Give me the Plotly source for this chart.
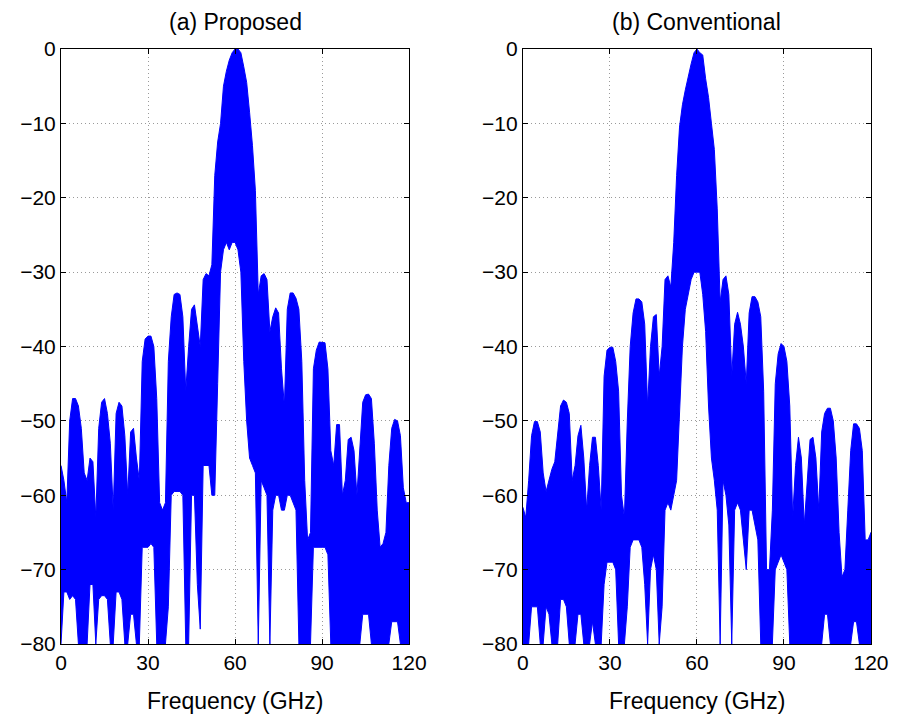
import plotly.graph_objects as go

# Frequency grid (GHz), 1 GHz steps
freq = list(range(0, 121))

# (a) Proposed: upper and lower envelope of the spectrum (dB)
upper_a = [
    -56, -58, -61, -50, -47, -47, -48, -51, -57, -58,
    -55, -55.5, -63, -51, -47.5, -47, -49, -53, -62, -49,
    -47.5, -48, -52, -60, -51.5, -51, -55, -58, -42, -39,
    -38.6, -38.6, -40, -47, -61, -62, -61, -42, -36, -33,
    -32.8, -33, -36, -46, -40, -35, -34.4, -37, -40, -31,
    -30.2, -30.5, -29, -17, -12.5, -10, -5, -3, -1.5, -0.5,
    0, 0, -0.5, -2.4, -4.5, -8.5, -13, -19, -33, -30.5,
    -30.2, -31, -38, -36, -34.8, -35.5, -43, -48, -35, -32.8,
    -32.8, -33.5, -35, -42, -58, -66, -65, -43, -40.5, -39.4,
    -39.4, -39.5, -43, -54, -56, -50.5, -50.5, -60, -58, -52.5,
    -52.2, -54, -60, -53, -47.5, -46.5, -46.4, -47, -53, -62,
    -67, -66.5, -65, -56, -51, -49.8, -50, -52, -59, -61, -61,
]
lower_a = [
    -80, -73, -73, -74, -73.5, -74, -80, -80, -80, -80,
    -72, -72, -80, -74, -73.5, -73.5, -74, -80, -80, -73,
    -73, -74, -80, -80, -76, -76, -80, -80, -67, -67,
    -67, -66.5, -67, -80, -80, -80, -80, -75, -60, -59.5,
    -59.5, -59.5, -60, -80, -80, -60, -60, -72, -78, -56,
    -56, -56, -60, -60, -45, -30, -27, -26, -27, -26,
    -26, -27, -30, -42, -50, -55, -56, -57, -80, -58,
    -59, -60, -80, -62, -60, -60, -62, -62, -60, -60,
    -61, -62, -80, -80, -80, -80, -80, -67, -67, -67,
    -67, -67, -68, -80, -80, -80, -80, -80, -80, -80,
    -80, -80, -80, -80, -76, -76, -76, -80, -80, -80,
    -80, -80, -80, -80, -77, -77, -77, -80, -80, -80, -80,
]

# (b) Conventional
upper_b = [
    -61.6, -63, -58, -52, -50.1, -50.1, -51.5, -57, -59.5, -58,
    -56.5, -55.5, -52, -48, -47.2, -47.5, -49, -58, -56, -52,
    -50.6, -55, -62, -56, -52.2, -52.2, -56, -62, -44, -40.5,
    -40.1, -40.1, -42, -46, -60, -63, -50, -40, -35.5, -33.6,
    -33.6, -34, -37, -48, -40, -36, -35.7, -44, -40, -31,
    -30.5, -32, -26, -17, -10.5, -7.5, -5.5, -3.5, -2, -0.5,
    0, -0.5, -0.8, -4, -6.5, -10, -13.5, -21.5, -34, -31,
    -30.5, -33, -44, -37, -35.4, -37, -40, -45, -35.5, -33.3,
    -33.3, -34, -36, -46, -70, -70, -62, -45, -41, -39.6,
    -40, -42, -48, -63, -56, -52.2, -55, -64, -58, -52.5,
    -52.2, -55, -62, -51.5, -49, -48.3, -48.3, -50, -55, -65,
    -71, -70, -62, -54, -50.4, -50.4, -51, -54, -66, -66, -65,
]
lower_b = [
    -80, -80, -80, -75, -75, -75, -80, -80, -75, -76,
    -80, -80, -80, -74, -74, -75, -80, -80, -80, -76,
    -76, -80, -80, -80, -77, -80, -80, -80, -72, -69,
    -69, -69, -70, -80, -80, -80, -75, -67, -66, -66,
    -66, -67, -72, -80, -70, -68, -70, -80, -75, -62,
    -61, -62, -60, -58, -48, -40, -35, -33, -31, -30,
    -30, -30, -33, -38, -48, -55, -58, -62, -80, -58,
    -60, -64, -80, -62, -61, -62, -66, -70, -62, -62,
    -64, -66, -80, -80, -80, -80, -80, -70, -69, -68,
    -69, -70, -80, -80, -80, -80, -80, -80, -80, -80,
    -80, -80, -80, -80, -76, -76, -80, -80, -80, -80,
    -80, -80, -80, -80, -77, -77, -80, -80, -80, -80, -80,
]

titles = ["(a) Proposed", "(b) Conventional"]
xlabel = "Frequency (GHz)"
xticks = [0, 30, 60, 90, 120]
yticks = [0, -10, -20, -30, -40, -50, -60, -70, -80]

FONT = "Liberation Sans, Arial, Helvetica, sans-serif"
BLUE = "#0000FF"

fig = go.Figure()
for i, (up, lo) in enumerate([(upper_a, lower_a), (upper_b, lower_b)]):
    xs = freq + freq[::-1]
    ys = up + lo[::-1]
    fig.add_trace(go.Scatter(
        x=xs, y=ys, mode="lines", fill="toself",
        fillcolor=BLUE, line=dict(color=BLUE, width=1),
        xaxis="x" if i == 0 else "x2", yaxis="y" if i == 0 else "y2",
        showlegend=False, hoverinfo="skip",
    ))

axis_common = dict(
    showline=True, linecolor="black", linewidth=1, mirror="allticks",
    ticks="inside", ticklen=5, tickcolor="black",
    showgrid=True, gridcolor="#9a9a9a", griddash="1px,3px", gridwidth=1,
    zeroline=False, tickfont=dict(family=FONT, size=21, color="black"),
)

# page body has an 8px margin, so the figure is laid out 8px smaller
fig.update_layout(
    width=893, height=709,
    margin=dict(l=50, r=24, t=41, b=73),
    paper_bgcolor="white", plot_bgcolor="white",
    xaxis=dict(domain=[0, 0.4298], range=[0, 120], tickvals=xticks, **axis_common),
    xaxis2=dict(domain=[0.5702, 1], range=[0, 120], tickvals=xticks, anchor="y2", **axis_common),
    yaxis=dict(range=[-80, 0], tickvals=yticks, **axis_common),
    yaxis2=dict(range=[-80, 0], tickvals=yticks, anchor="x2", **axis_common),
)

centers = [0.4298 / 2, (0.5702 + 1) / 2]
for c, t in zip(centers, titles):
    fig.add_annotation(x=c, y=1, xref="paper", yref="paper", text=t, showarrow=False,
                       xanchor="center", yanchor="bottom", yshift=12,
                       font=dict(family=FONT, size=23, color="black"))
    fig.add_annotation(x=c, y=0, xref="paper", yref="paper", text=xlabel, showarrow=False,
                       xanchor="center", yanchor="top", yshift=-42,
                       font=dict(family=FONT, size=23, color="black"))

fig.write_html("out.html")
